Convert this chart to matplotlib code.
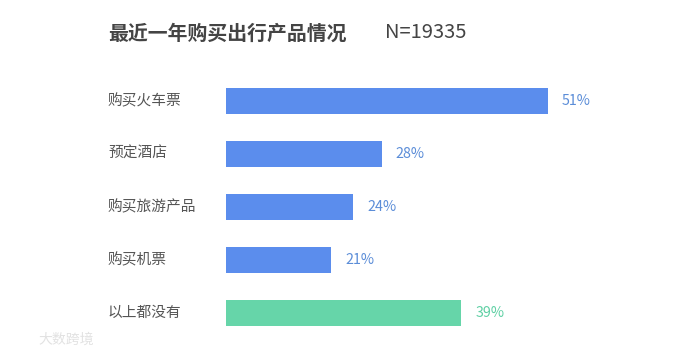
import matplotlib
matplotlib.use("Agg")
import matplotlib.pyplot as plt

plt.rcParams["font.family"] = ["Noto Sans CJK SC", "DejaVu Sans"]

categories = ["购买火车票", "预定酒店", "购买旅游产品", "购买机票", "以上都没有"]
values = [51, 28, 24, 21, 39]
colors = ["#5b8ded", "#5b8ded", "#5b8ded", "#5b8ded", "#66d5a9"]
label_colors = ["#5b8dd8", "#5b8dd8", "#5b8dd8", "#5b8dd8", "#5fd0a4"]
title = "最近一年购买出行产品情况"
n_text = "N=19335"

W, H = 680, 355
fig = plt.figure(figsize=(W / 100, H / 100), dpi=100)

# axes placed in pixel units
x0, x1 = 226, 680
y_top, y_bot = 74.5, 339.5
ax = fig.add_axes([x0 / W, 1 - y_bot / H, (x1 - x0) / W, (y_bot - y_top) / H])

ypos = list(range(len(categories)))
ax.barh(ypos, values, height=0.49, color=colors, left=0)
ax.set_xlim(6.4, 6.4 + (x1 - x0) / 7.22)
ax.set_ylim(len(categories) - 0.5, -0.5)
ax.axis("off")

for y, v, c in zip(ypos, values, label_colors):
    ax.annotate(f"{v}%", (v, y), xytext=(10, 0), textcoords="offset points",
                color=c, fontsize=10.3, va="center", ha="left")

for y, cat in zip(ypos, categories):
    fig.text(108 / W, 1 - (101 + 53 * y) / H, cat, color="#555555",
             fontsize=10.6, va="center", ha="left")

fig.text(108 / W, 1 - 33 / H, title, color="#444444", fontsize=14.3,
         fontweight="bold", va="center", ha="left")
fig.text(385 / W, 1 - 33 / H, n_text, color="#444444", fontsize=14.5,
         va="center", ha="left")

# faint watermark
fig.text(38 / W, 1 - 340 / H, "大数跨境", color="#e2e2e2", fontsize=10,
         va="center", ha="left")

fig.savefig("out.png", dpi=100, facecolor="white")
